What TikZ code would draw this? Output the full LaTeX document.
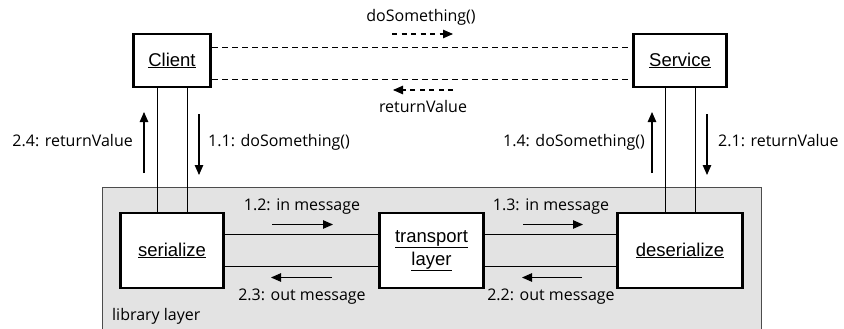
\documentclass[tikz,border=0pt]{standalone}
\usepackage{fontspec}
\setmainfont{Open Sans}
\newfontfamily\boxfont{Liberation Sans}
\usetikzlibrary{arrows.meta}

\tikzset{
  obj/.style={draw, line width=2.6pt, fill=white, align=center, inner sep=0pt,
    font=\boxfont\fontsize{18.5}{23}\selectfont},
  lbl/.style={inner sep=0pt, font=\fontsize{16}{19}\selectfont},
  link/.style={line width=1pt},
  calllink/.style={line width=1pt, dash pattern=on 5.5pt off 4.5pt},
  msg/.style={line width=1.1pt, -{Triangle[length=10pt,width=8.5pt]}},
  dmsg/.style={msg, dash pattern=on 5pt off 4.5pt},
  layer/.style={draw=black!70, line width=1pt, fill=black!11},
}

\begin{document}
\begin{tikzpicture}[x=1pt, y=-1pt]
  \clip (0,0) rectangle (844,329);
  \fill[white] (0,0) rectangle (844,329);

  % library layer frame
  \draw[layer] (102.5,187) rectangle (761,340);
  \node[lbl, anchor=mid west] (liblbl) at (112,318) {library layer};

  % objects
  \node[obj, minimum width=77.5pt, minimum height=53pt] (client) at (172,60.5) {\underline{Client}};
  \node[obj, minimum width=92.5pt, minimum height=53pt] (service) at (680,60.5) {\underline{Service}};
  \node[obj, minimum width=103.5pt, minimum height=75pt] (ser) at (172,250.5) {\underline{serialize}};
  \node[obj, minimum width=104.5pt, minimum height=75pt] (trans) at (431.5,250.5) {\underline{transport}\\\underline{layer}};
  \node[obj, minimum width=124.5pt, minimum height=75pt] (deser) at (680,250.5) {\underline{deserialize}};

  % links between objects
  \draw[calllink] ([yshift=12.8pt]client.east) -- ([yshift=12.8pt]service.west);
  \draw[calllink] ([yshift=-19.5pt]client.east) -- ([yshift=-19.5pt]service.west);
  \draw[link] ([xshift=-15pt]client.south) -- ([xshift=-15pt]ser.north);
  \draw[link] ([xshift=15pt]client.south) -- ([xshift=15pt]ser.north);
  \draw[link] ([xshift=-15pt]service.south) -- ([xshift=-15pt]deser.north);
  \draw[link] ([xshift=15pt]service.south) -- ([xshift=15pt]deser.north);
  \draw[link] ([yshift=16pt]ser.east) -- ([yshift=16pt]trans.west);
  \draw[link] ([yshift=-16pt]ser.east) -- ([yshift=-16pt]trans.west);
  \draw[link] ([yshift=16pt]trans.east) -- ([yshift=16pt]deser.west);
  \draw[link] ([yshift=-16pt]trans.east) -- ([yshift=-16pt]deser.west);

  % remote call messages
  \node[lbl] (call) at (421,17) {doSomething()};
  \draw[dmsg] (392,34) -- (453,34);
  \draw[dmsg] (453,90) -- (393,90);
  \node[lbl] (ret) at (423,107) {returnValue};

  % client side messages
  \draw[msg] (144,173) -- (144,112);
  \node[lbl, anchor=mid east] (m24) at (133,143.5) {2.4: returnValue};
  \draw[msg] (199,114) -- (199,175);
  \node[lbl, anchor=mid west] (m11) at (208,143.5) {1.1: doSomething()};

  % service side messages
  \draw[msg] (652,173) -- (652,112);
  \node[lbl, anchor=mid east] (m14) at (645,143.5) {1.4: doSomething()};
  \draw[msg] (707,114) -- (707,175);
  \node[lbl, anchor=mid west] (m21) at (718,143.5) {2.1: returnValue};

  % library internal messages
  \node[lbl] (m12) at (302,206.5) {1.2: in message};
  \draw[msg] (272,224.5) -- (333,224.5);
  \draw[msg] (332,277.5) -- (271,277.5);
  \node[lbl] (m23) at (302,296.5) {2.3: out message};

  \node[lbl] (m13) at (551,206.5) {1.3: in message};
  \draw[msg] (523,224.5) -- (583,224.5);
  \draw[msg] (582,277.5) -- (522,277.5);
  \node[lbl] (m22) at (551,296.5) {2.2: out message};
\end{tikzpicture}
\end{document}
